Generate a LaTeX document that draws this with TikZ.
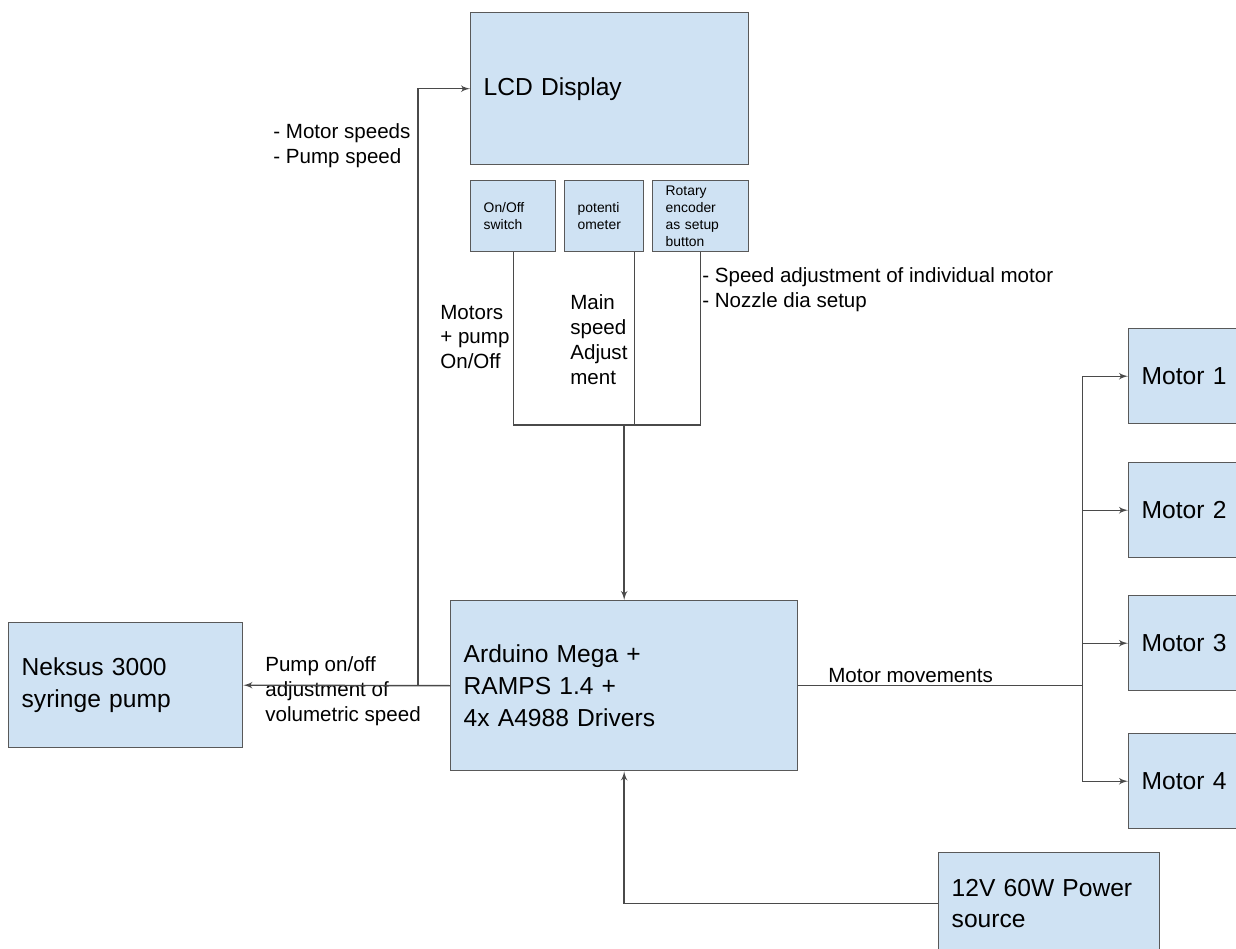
\documentclass[tikz,border=0pt]{standalone}
\usepackage{fontspec}
\setmainfont{Liberation Sans}
\usepackage{tikz}
\usetikzlibrary{positioning}
\usetikzlibrary{calc}
\usetikzlibrary{arrows}
\definecolor{boxfill}{HTML}{CFE2F3}
\definecolor{boxline}{HTML}{595959}
\definecolor{wirecol}{HTML}{4A4A4A}

\begin{document}
\begin{tikzpicture} [
   x=0.02cm, y=-0.02cm,        % one unit per pixel, y grows downwards
   ]
% -------------------------------------------------
\tikzset{
  base/.style={draw=boxline, fill=boxfill, line width=0.8pt, rectangle, anchor=north west, align=left, inner xsep=0.26cm},
  box/.style={base, font=\fontsize{14}{18}\selectfont},
  knob/.style={base, inner ysep=0pt, minimum height=1.42cm, font=\fontsize{7.9}{9.6}\selectfont},
  motor/.style={box, minimum width=2.4cm, text width=1.88cm, minimum height=1.9cm},
  note/.style={anchor=west, align=left, inner sep=0pt, font=\fontsize{11.7}{14.2}\selectfont},
  wire/.style={draw=wirecol, line width=0.8pt},
  line/.style={wire, -latex'},
}
    \clip (0,0) rectangle (1236,948);

    % display and its controls
    \node [box, minimum width=5.56cm, text width=5.04cm, minimum height=3.04cm] (lcd) at (470,12) {LCD Display};
    \node [knob, minimum width=1.70cm, text width=1.18cm] (sw) at (470,180) {On/Off\\switch};
    \node [knob, minimum width=1.58cm, text width=1.06cm] (pot) at (564,180) {potenti\\ometer};
    \node [knob, minimum width=1.92cm, text width=1.40cm] (enc) at (652,180) {Rotary\\encoder\\as setup\\button};

    % controller, pump, power
    \node [box, minimum width=6.94cm, text width=6.42cm, minimum height=3.40cm] (ard) at (450,600) {Arduino Mega +\\RAMPS 1.4 +\\4x A4988 Drivers};
    \node [box, minimum width=4.68cm, text width=4.16cm, minimum height=2.50cm] (pump) at (8,622) {Neksus 3000\\syringe pump};
    \node [box, minimum width=4.42cm, text width=3.90cm, minimum height=2.04cm] (pwr) at (938,852) {12V 60W Power\\source};

    % motors
    \node [motor] (m1) at (1128,328) {Motor 1};
    \node [motor] (m2) at (1128,462) {Motor 2};
    \node [motor] (m3) at (1128,595) {Motor 3};
    \node [motor] (m4) at (1128,733) {Motor 4};

    % labels
    \node [note] (speeds) at (273,146) {- Motor speeds\\- Pump speed};
    \node [note] (onoff) at (440,337) {Motors\\+ pump\\On/Off};
    \node [note] (mainspd) at (570,340) {Main\\speed\\Adjust\\ment};
    \node [note] (encnote) at (702,290) {- Speed adjustment of individual motor\\- Nozzle dia setup};
    \node [note] (mvmt) at (828,676) {Motor movements};
    \node [note] (pumpnote) at (265,691) {Pump on/off\\adjustment of\\volumetric speed};

    % connectors
    \coordinate (bus) at ($(ard.north)+(0,-175)$);
    \draw [wire] (sw.south) |- (bus) -| (enc.south);
    \draw [wire] ($(pot.south east)+(-10,0)$) coordinate (potdrop) -- (potdrop |- bus);
    \path [line] (bus) -- (ard.north);

    \path [line] (ard.west) -- (pump.east);
    \coordinate (tap) at ($(ard.west)+(-32,0)$);
    \path [line] (tap) |- (lcd.west);

    \coordinate (hub) at ($(ard.east)+(284,0)$);
    \draw [wire] (ard.east) -- (hub);
    \foreach \m in {m1,m2,m3,m4}
        \path [line] (hub) |- (\m.west);

    \path [line] (pwr.west) -| (ard.south);

\end{tikzpicture}
\end{document}
